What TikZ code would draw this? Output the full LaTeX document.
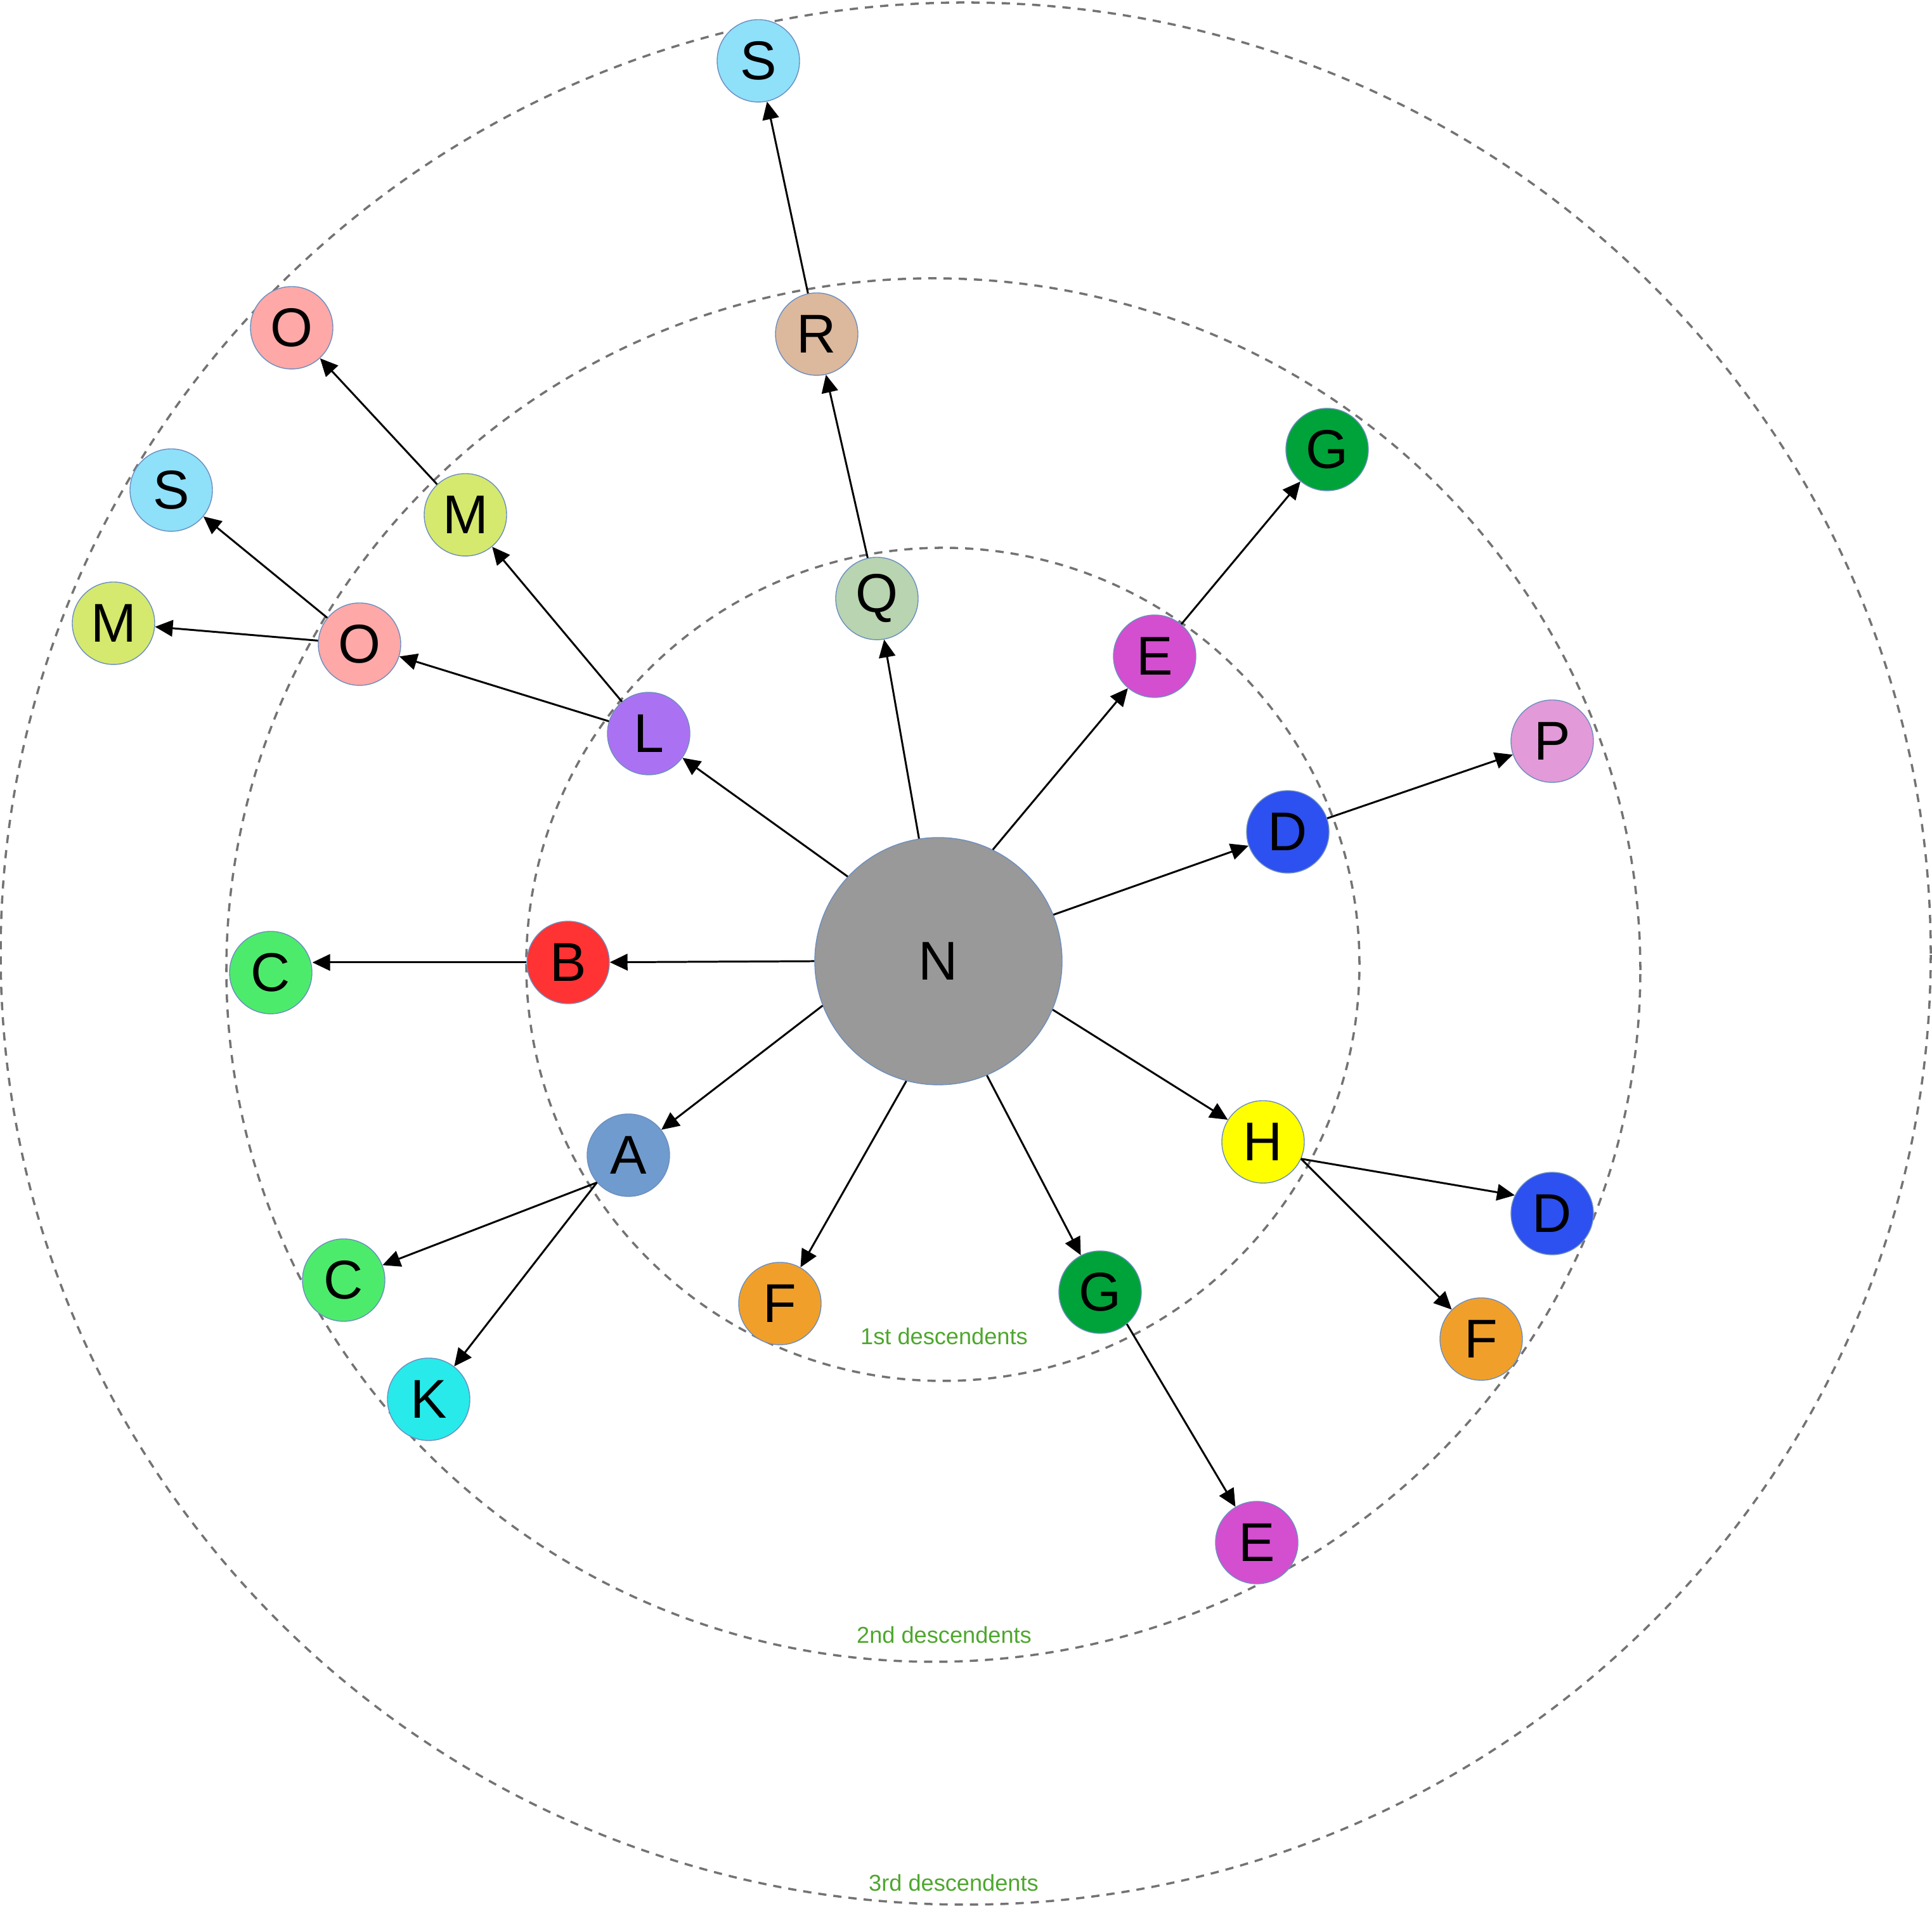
\documentclass[tikz,border=0pt]{standalone}
\usepackage{fontspec}
\setmainfont{Liberation Sans}
\usepackage{tikz}
\usetikzlibrary{arrows.meta, shapes.geometric}

\definecolor{nodeedge}{RGB}{108,142,191}
\definecolor{ringgray}{RGB}{115,115,115}
\definecolor{lblgreen}{RGB}{78,167,46}
\definecolor{colN}{RGB}{153,153,153}
\definecolor{colA}{RGB}{112,155,206}
\definecolor{colB}{RGB}{255,51,51}
\definecolor{colC}{RGB}{77,235,108}
\definecolor{colD}{RGB}{45,80,240}
\definecolor{colE}{RGB}{212,78,208}
\definecolor{colF}{RGB}{240,160,42}
\definecolor{colG}{RGB}{0,163,58}
\definecolor{colH}{RGB}{255,255,0}
\definecolor{colK}{RGB}{40,234,234}
\definecolor{colL}{RGB}{170,114,242}
\definecolor{colM}{RGB}{213,233,110}
\definecolor{colO}{RGB}{255,168,168}
\definecolor{colP}{RGB}{226,154,216}
\definecolor{colQ}{RGB}{184,212,176}
\definecolor{colR}{RGB}{220,184,156}
\definecolor{colS}{RGB}{143,224,249}

\begin{document}
\begin{tikzpicture}[
    nd/.style={
        circle, draw=nodeedge, line width=0.4pt,
        minimum size=1.3cm, inner sep=0pt,
        font=\fontsize{24.5}{29}\selectfont
    },
    root/.style={nd, minimum size=3.9cm, fill=colN},
    ring/.style={draw=ringgray, line width=1pt, dash pattern=on 0.13cm off 0.11cm},
    ringlbl/.style={font=\fontsize{10.3}{12}\selectfont, text=lblgreen},
    arr/.style={-{Triangle[length=0.28cm, width=0.26cm]}, line width=0.85pt},
]
\useasboundingbox (0,0) rectangle (30.47,30.14);

%% ---- RINGS ----
\draw[ring] (15.23,15.10) ellipse [x radius=15.22cm, y radius=15.00cm];
\draw[ring] (14.72,14.84) ellipse [x radius=11.15cm, y radius=10.91cm];
\draw[ring] (14.87,14.93) circle [radius=6.57cm];

\node[ringlbl] (lbl1) at (14.89,9.06) {1st descendents};
\node[ringlbl] (lbl2) at (14.89,4.35) {2nd descendents};
\node[ringlbl] (lbl3) at (15.04,0.44) {3rd descendents};

%% ---- ROOT ----
\node[root] (n) at (14.80,14.98) {N};

%% ---- 1ST DESCENDENTS ----
\node[nd, fill=colB] (b)  at (8.96,14.96)  {B};
\node[nd, fill=colA] (a)  at (9.91,11.92)  {A};
\node[nd, fill=colF] (f1) at (12.30,9.58)  {F};
\node[nd, fill=colG] (g1) at (17.35,9.76)  {G};
\node[nd, fill=colH] (h)  at (19.92,12.13) {H};
\node[nd, fill=colD] (d1) at (20.31,17.02) {D};
\node[nd, fill=colE] (e2) at (18.21,19.79) {E};
\node[nd, fill=colQ] (q)  at (13.83,20.70) {Q};
\node[nd, fill=colL] (l)  at (10.23,18.57) {L};

%% ---- 2ND DESCENDENTS ----
\node[nd, fill=colC] (c1) at (4.27,14.80)  {C};
\node[nd, fill=colC] (c2) at (5.42,9.95)   {C};
\node[nd, fill=colK] (k)  at (6.76,8.07)   {K};
\node[nd, fill=colE] (e1) at (19.82,5.81)  {E};
\node[nd, fill=colD] (d2) at (24.48,11.00) {D};
\node[nd, fill=colF] (f2) at (23.36,9.02)  {F};
\node[nd, fill=colP] (p)  at (24.48,18.45) {P};
\node[nd, fill=colG] (g2) at (20.93,23.05) {G};
\node[nd, fill=colR] (r)  at (12.88,24.87) {R};
\node[nd, fill=colO] (o1) at (5.67,19.98)  {O};
\node[nd, fill=colM] (m1) at (7.34,22.02)  {M};

%% ---- 3RD DESCENDENTS ----
\node[nd, fill=colS] (s1) at (11.96,29.18) {S};
\node[nd, fill=colO] (o2) at (4.60,24.97)  {O};
\node[nd, fill=colS] (s2) at (2.70,22.41)  {S};
\node[nd, fill=colM] (m2) at (1.79,20.31)  {M};

%% ---- ROOT -> 1ST ----
\draw[arr] (n.180) -- (b);
\draw[arr] (n.201) -- (a);
\draw[arr] (n.255) -- (f1);
\draw[arr] (n.293) -- (g1);
\draw[arr] (n.-23) -- (h);
\draw[arr] (n.22)  -- (d1);
\draw[arr] (n.64)  -- (e2);
\draw[arr] (n.99)  -- (q);
\draw[arr] (n.137) -- (l);

%% ---- 1ST -> 2ND ----
\draw[arr] (b) -- (b -| c1.east);
\draw[arr] (a.221) -- (c2);
\draw[arr] (a.221) -- (k);
\draw[arr] (g1.-50) -- (e1);
\draw[arr] (h.-24) -- (d2.154);
\draw[arr] (h.-24) -- (f2);
\draw[arr] (d1) -- (p);
\draw[arr] (e2) -- (g2);
\draw[arr] (q) -- (r);
\draw[arr] (l) -- (o1);
\draw[arr] (l) -- (m1);

%% ---- 2ND -> 3RD ----
\draw[arr] (r) -- (s1);
\draw[arr] (m1) -- (o2);
\draw[arr] (o1) -- (s2);
\draw[arr] (o1) -- (m2);

\end{tikzpicture}
\end{document}
